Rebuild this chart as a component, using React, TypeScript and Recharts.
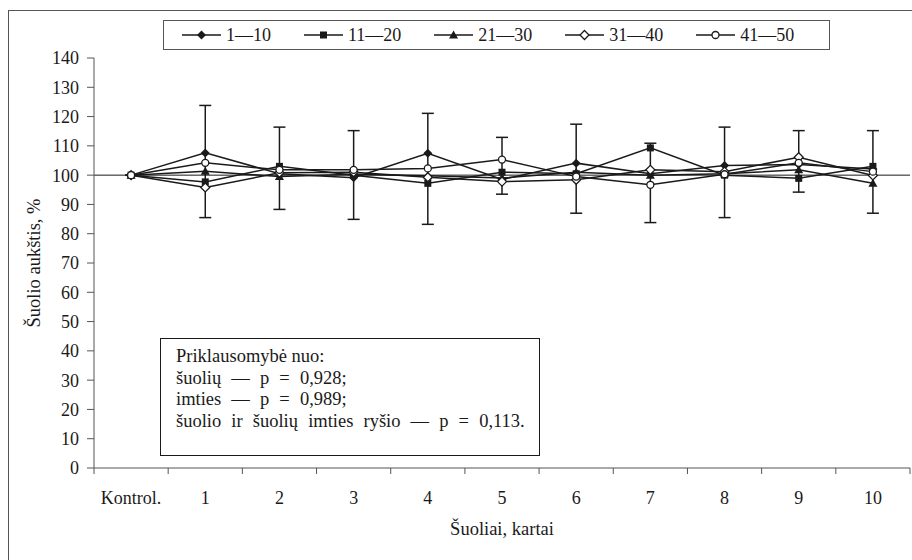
import { LineChart, Line, XAxis, YAxis, ReferenceLine, ErrorBar, Legend } from 'recharts';

const categories = ['Kontrol.', '1', '2', '3', '4', '5', '6', '7', '8', '9', '10'];

const jumps1to10 = [100, 107.6, 100.5, 99.1, 107.5, 98.5, 104.1, 100.5, 103.3, 103.6, 102.1];
const jumps11to20 = [100, 97.7, 103, 100, 97.2, 101, 100.5, 109.3, 100, 98.9, 103];
const jumps21to30 = [100, 101.3, 99.5, 100.3, 99.8, 99, 101, 100, 100.5, 101.8, 97.2];
const jumps31to40 = [100, 95.8, 100.8, 101, 99.3, 97.8, 98.4, 101.8, 101.2, 106.1, 99.9];
const jumps41to50 = [100, 104.2, 101.8, 101.8, 102.3, 105.3, 99.5, 96.7, 100.3, 104.2, 101.2];

// error bar ends (absolute values)
const errLow = [100, 85.5, 88.3, 84.9, 83.2, 93.5, 87, 83.8, 85.5, 94.2, 87];
const errHigh = [100, 123.8, 116.4, 115.2, 121.1, 112.9, 117.4, 110.9, 116.4, 115.2, 115.2];

const yTicks = [0, 10, 20, 30, 40, 50, 60, 70, 80, 90, 100, 110, 120, 130, 140];

const notes = [
  'Priklausomybė nuo:',
  'šuolių — p = 0,928;',
  'imties — p = 0,989;',
  'šuolio ir šuolių imties ryšio — p = 0,113.',
];

const FONT = '"Liberation Serif", "Times New Roman", Tinos, "DejaVu Serif", serif';
const INK = '#1a1a1a';
const AXIS = '#555';

type Shape = 'diamond' | 'square' | 'triangle' | 'openDiamond' | 'circle';

const series: { key: string; name: string; values: number[]; shape: Shape }[] = [
  { key: 's1', name: '1—10', values: jumps1to10, shape: 'diamond' },
  { key: 's2', name: '11—20', values: jumps11to20, shape: 'square' },
  { key: 's3', name: '21—30', values: jumps21to30, shape: 'triangle' },
  { key: 's4', name: '31—40', values: jumps31to40, shape: 'openDiamond' },
  { key: 's5', name: '41—50', values: jumps41to50, shape: 'circle' },
];

const data = categories.map((cat, i) => {
  const row: Record<string, any> = { x: i + 0.5, cat };
  series.forEach(s => (row[s.key] = s.values[i]));
  row.err = [jumps41to50[i] - errLow[i], errHigh[i] - jumps41to50[i]];
  return row;
});

const xTicks: number[] = [];
for (let i = 0; i <= categories.length; i++) {
  xTicks.push(i);
  if (i < categories.length) xTicks.push(i + 0.5);
}

function Marker({ shape, cx, cy }: { shape: Shape; cx: number; cy: number }) {
  if (cx == null || cy == null) return null;
  switch (shape) {
    case 'diamond':
      return <path d={`M${cx},${cy - 4.5}L${cx + 4.5},${cy}L${cx},${cy + 4.5}L${cx - 4.5},${cy}Z`} fill={INK} />;
    case 'square':
      return <rect x={cx - 3.5} y={cy - 3.5} width={7} height={7} fill={INK} />;
    case 'triangle':
      return <path d={`M${cx},${cy - 4.5}L${cx + 4.5},${cy + 3.5}L${cx - 4.5},${cy + 3.5}Z`} fill={INK} />;
    case 'openDiamond':
      return <path d={`M${cx},${cy - 4.5}L${cx + 4.5},${cy}L${cx},${cy + 4.5}L${cx - 4.5},${cy}Z`} fill="#fff" stroke={INK} strokeWidth={1.3} />;
    default:
      return <circle cx={cx} cy={cy} r={3.5} fill="#fff" stroke={INK} strokeWidth={1.3} />;
  }
}

function XTick({ x, y, payload }: any) {
  const v = payload.value;
  if (Number.isInteger(v)) {
    return <line x1={x} x2={x} y1={y} y2={y + 6} stroke={AXIS} />;
  }
  return (
    <text x={x} y={y + 36} textAnchor="middle" fill={INK} style={{ fontSize: 18, fontFamily: FONT }}>
      {categories[Math.floor(v)]}
    </text>
  );
}

function LegendBox() {
  return (
    <div
      style={{
        boxSizing: 'border-box',
        width: 667,
        height: 30,
        border: `1px solid ${AXIS}`,
        background: '#fff',
        display: 'flex',
        alignItems: 'center',
        paddingLeft: 18,
        gap: 33,
        fontFamily: FONT,
        fontSize: 18,
        color: INK,
      }}
    >
      {series.map(s => (
        <div key={s.key} style={{ display: 'flex', alignItems: 'center' }}>
          <svg width={39} height={12} style={{ marginRight: 5 }}>
            <line x1={0} x2={39} y1={6} y2={6} stroke={INK} strokeWidth={1.5} />
            <Marker shape={s.shape} cx={19.5} cy={6} />
          </svg>
          <span>{s.name}</span>
        </div>
      ))}
    </div>
  );
}

export default function App() {
  return (
    <div
      style={{
        position: 'fixed',
        left: 0,
        top: 0,
        width: 912,
        height: 560,
        overflow: 'hidden',
        background: '#fff',
        fontFamily: FONT,
      }}
    >
      <div
        style={{
          position: 'absolute',
          left: 8,
          top: 10,
          width: 1000,
          height: 1000,
          borderLeft: `1px solid ${AXIS}`,
          borderTop: `1px solid ${AXIS}`,
        }}
      />
      <div style={{ position: 'absolute', left: 0, top: 0 }}>
        <LineChart
          width={912}
          height={560}
          data={data}
          margin={{ top: 58, right: 2, bottom: 52, left: 0 }}
          style={{ fontFamily: FONT }}
        >
          <XAxis
            type="number"
            dataKey="x"
            domain={[0, categories.length]}
            ticks={xTicks}
            interval={0}
            tick={<XTick />}
            tickLine={false}
            tickSize={0}
            tickMargin={0}
            height={40}
            stroke={AXIS}
            label={{
              value: 'Šuoliai, kartai',
              position: 'bottom',
              offset: 14,
              fill: INK,
              style: { fontSize: 18.5, fontFamily: FONT },
            }}
          />
          <YAxis
            domain={[0, 140]}
            ticks={yTicks}
            interval={0}
            width={94}
            tickSize={7}
            tickMargin={8}
            stroke={AXIS}
            tick={{ fill: INK, style: { fontSize: 18, fontFamily: FONT } }}
            label={{
              value: 'Šuolio aukštis, %',
              angle: -90,
              position: 'insideLeft',
              offset: 33,
              fill: INK,
              style: { textAnchor: 'middle', fontSize: 18.5, fontFamily: FONT },
            }}
          />
          <ReferenceLine y={100} stroke={INK} strokeWidth={1} />
          <Legend
            layout="horizontal"
            verticalAlign="middle"
            align="center"
            wrapperStyle={{ left: 163, top: 20, width: 667, height: 30 }}
            content={() => <LegendBox />}
          />
          {series.map(s => (
            <Line
              key={s.key}
              dataKey={s.key}
              name={s.name}
              stroke={INK}
              strokeWidth={1.5}
              isAnimationActive={false}
              dot={(p: any) => <Marker key={`${s.key}-${p.index}`} shape={s.shape} cx={p.cx} cy={p.cy} />}
              activeDot={false}
            >
              {s.key === 's5' && <ErrorBar dataKey="err" direction="y" width={6} stroke={INK} strokeWidth={1.5} />}
            </Line>
          ))}
        </LineChart>
      </div>
      <div
        style={{
          position: 'absolute',
          left: 160,
          top: 338,
          width: 380,
          height: 118,
          boxSizing: 'border-box',
          border: `1px solid ${INK}`,
          background: '#fff',
          padding: '7px 0 0 15px',
          fontFamily: FONT,
          fontSize: 18.5,
          lineHeight: '21.5px',
          whiteSpace: 'nowrap',
          color: INK,
        }}
      >
        {notes.map((n, i) => (
          <div key={n} style={{ wordSpacing: i === 0 ? 0 : 5.5 }}>
            {n}
          </div>
        ))}
      </div>
    </div>
  );
}
